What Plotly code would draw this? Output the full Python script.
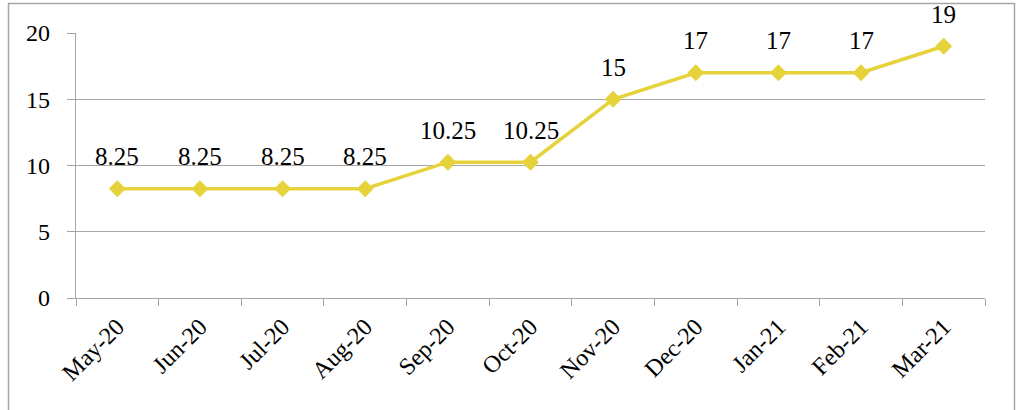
import plotly.graph_objects as go

months = ["May-20", "Jun-20", "Jul-20", "Aug-20", "Sep-20", "Oct-20",
          "Nov-20", "Dec-20", "Jan-21", "Feb-21", "Mar-21"]
rates = [8.25, 8.25, 8.25, 8.25, 10.25, 10.25, 15, 17, 17, 17, 19]
labels = ["8.25", "8.25", "8.25", "8.25", "10.25", "10.25", "15", "17", "17", "17", "19"]
y_ticks = [0, 5, 10, 15, 20]

W, H = 1017, 410
L, R, T, B = 76, 985, 33, 298
FONT = "Liberation Serif"

fig = go.Figure()
fig.add_trace(go.Scatter(
    x=months, y=rates, mode="lines+markers",
    line=dict(color="#E6D33B", width=3.5),
    marker=dict(symbol="diamond", size=13, color="#E6D33B"),
    cliponaxis=False, showlegend=False,
))

for m, v, t in zip(months, rates, labels):
    fig.add_annotation(x=m, y=v, text=t, showarrow=False, yshift=32,
                       yanchor="middle", xanchor="center",
                       font=dict(family=FONT, size=25, color="#000000"))

def px_x(p):
    return (p - L) / (R - L)

def px_y(p):
    return (B - p) / (B - T)

fig.add_shape(type="rect", xref="paper", yref="paper",
              x0=px_x(8.5), x1=px_x(1014.5), y0=px_y(415), y1=px_y(3.5),
              line=dict(color="#A6A6A6", width=1.5), fillcolor="rgba(0,0,0,0)", layer="below")

fig.update_layout(
    width=W, height=H,
    margin=dict(l=L, r=W - R, t=T, b=H - B, pad=0, autoexpand=False),
    paper_bgcolor="white", plot_bgcolor="white",
    font=dict(family=FONT, size=24, color="#000000"),
    xaxis=dict(
        type="category", tickangle=-45, tickson="boundaries",
        ticks="outside", ticklen=7, tickcolor="#A6A6A6", tickwidth=1.3,
        showline=True, linecolor="#A6A6A6", linewidth=1.3,
        showgrid=False, range=[-0.5, 10.5], automargin=False,
        ticklabelstandoff=4,
        tickfont=dict(family=FONT, size=24),
    ),
    yaxis=dict(
        range=[0, 20], tickvals=y_ticks, ticks="outside", ticklen=8,
        tickcolor="#A6A6A6", tickwidth=1.3,
        showline=True, linecolor="#A6A6A6", linewidth=1.3,
        showgrid=True, gridcolor="#A6A6A6", gridwidth=1.3,
        zeroline=False, automargin=False, ticklabelstandoff=12,
        tickfont=dict(family=FONT, size=24),
    ),
)

fig.write_html("out.html", config={"displayModeBar": False},
               post_script="document.body.style.margin='0';")
